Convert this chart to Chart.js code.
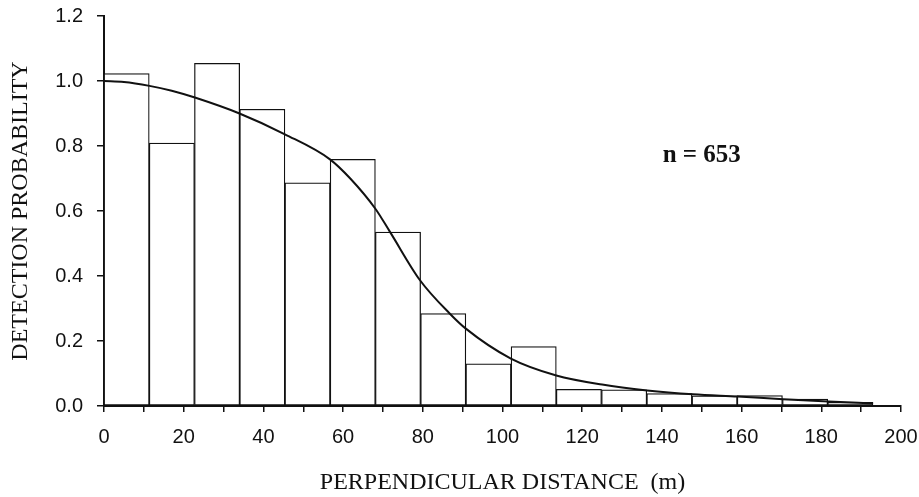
<!DOCTYPE html>
<html>
<head>
<meta charset="utf-8">
<script src="https://cdn.jsdelivr.net/npm/chart.js@4.4.1/dist/chart.umd.min.js"></script>
<style>
  html, body { margin: 0; padding: 0; background: #fff; }
  #wrap { width: 919px; height: 497px; }
</style>
</head>
<body>
<div id="wrap"><canvas id="chart"></canvas></div>
<script>
// histogram bins (m) and heights
const binEdges = [0, 11.35, 22.7, 34.05, 45.4, 56.75, 68.1, 79.45, 90.8, 102.15, 113.5, 124.85, 136.2, 147.55, 158.9, 170.25, 181.6, 192.95];
const barHeights = [1.023, 0.809, 1.054, 0.913, 0.687, 0.759, 0.535, 0.284, 0.130, 0.183, 0.051, 0.050, 0.038, 0.031, 0.032, 0.021, 0.011];

// fitted detection function
const curveX = [0, 5, 11.4, 17, 22.8, 34, 45.4, 56.7, 61.8, 68.1, 71.8, 79.3, 86.8, 90.8, 102.1, 113.5, 125, 136.3, 147.8, 159, 170.4, 181.8, 193];
const curveY = [1.0, 0.997, 0.985, 0.97, 0.949, 0.900, 0.836, 0.759, 0.70, 0.607, 0.535, 0.387, 0.284, 0.238, 0.146, 0.094, 0.066, 0.048, 0.036, 0.029, 0.021, 0.014, 0.008];

const xTicks = [0, 20, 40, 60, 80, 100, 120, 140, 160, 180, 200];
const sampleLabel = 'n = 653';

const bars = barHeights.map((h, i) => ({ x: (binEdges[i] + binEdges[i + 1]) / 2, y: h }));
const curve = curveX.map((x, i) => ({ x: x, y: curveY[i] }));

const tickFont = { family: '"Liberation Sans", Arial, sans-serif', size: 20 };
const titleFont = { family: '"Liberation Serif", "Times New Roman", serif', size: 24 };

// "n = 653" written in data coordinates
const noteText = {
    id: 'noteText',
    afterDatasetsDraw(chart) {
        const ctx = chart.ctx;
        const px = chart.scales.x.getPixelForValue(150);
        const py = chart.scales.y.getPixelForValue(0.771);
        ctx.save();
        ctx.font = 'bold 25px "Liberation Serif", "Times New Roman", serif';
        ctx.fillStyle = '#111';
        ctx.textAlign = 'center';
        ctx.textBaseline = 'middle';
        ctx.fillText(sampleLabel, px, py);
        ctx.restore();
    }
};

const config = {
    data: {
        datasets: [{
            type: 'line',
            data: curve,
            borderColor: '#111',
            borderWidth: 2,
            pointRadius: 0,
            cubicInterpolationMode: 'monotone',
            order: 0
        }, {
            type: 'bar',
            data: bars,
            backgroundColor: '#fff',
            borderColor: '#111',
            borderWidth: 1.25,
            borderSkipped: false,
            barThickness: 'flex',   // width from neighbouring bins, not from the ticks
            barPercentage: 1,
            categoryPercentage: 1,
            order: 1
        }]
    },
    options: {
        responsive: true,
        maintainAspectRatio: false,
        animation: false,
        layout: {
            padding: { top: 0, right: 0, bottom: 0, left: 4 }
        },
        plugins: {
            legend: { display: false },
            tooltip: { enabled: false }
        },
        scales: {
            x: {
                type: 'linear',
                min: 0,
                max: 200,
                offset: false,
                border: { display: true, color: '#111', width: 2 },
                grid: { offset: false, drawOnChartArea: false, drawTicks: true, tickLength: 6, color: '#111', lineWidth: 1.5 },
                ticks: {
                    stepSize: 10,
                    autoSkip: false,
                    maxRotation: 0,
                    color: '#111',
                    font: tickFont,
                    padding: 13,
                    callback: v => xTicks.includes(v) ? String(v) : ''
                },
                title: {
                    display: true,
                    text: 'PERPENDICULAR DISTANCE  (m)',
                    color: '#111',
                    font: titleFont,
                    padding: { top: 10, bottom: 0 }
                },
                afterFit: s => { s.height = 91; s.paddingRight = 18; }
            },
            y: {
                min: 0,
                max: 1.2,
                border: { display: true, color: '#111', width: 2 },
                grid: { drawOnChartArea: false, drawTicks: true, tickLength: 7, color: '#111', lineWidth: 1.5 },
                ticks: {
                    stepSize: 0.2,
                    color: '#111',
                    font: tickFont,
                    padding: 14,
                    callback: v => v.toFixed(1)
                },
                title: {
                    display: true,
                    text: 'DETECTION PROBABILITY',
                    color: '#111',
                    font: titleFont,
                    padding: { top: 2, bottom: 12 }
                },
                afterFit: s => { s.width = 100; s.paddingTop = 16; }
            }
        }
    },
    plugins: [noteText]
};

var chart = document.getElementById('chart');
var myChart = new Chart(chart, config);
</script>
</body>
</html>
